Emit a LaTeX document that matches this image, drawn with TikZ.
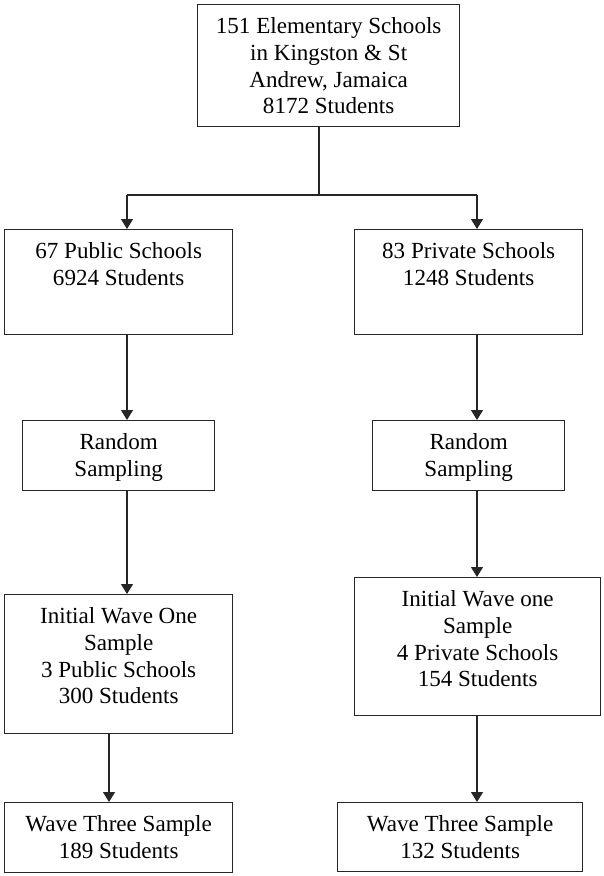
\documentclass[tikz,border=0pt]{standalone}
\usepackage{fontspec}
\setmainfont{Liberation Serif}
\usetikzlibrary{arrows.meta}
\newcommand{\boxtext}[3]{\parbox[c][#2][t]{#1}{\centering\rule{0pt}{21.75pt}#3}}
\begin{document}
\begin{tikzpicture}[x=0.75pt,y=-0.75pt,
  font=\fontsize{17.3pt}{20pt}\selectfont,
  stepbox/.style={draw=black!85, line width=1pt, inner sep=0pt, anchor=north west},
  arr/.style={draw=black!85, line width=1pt, -{Triangle[width=9pt,length=7.5pt]}},
  conn/.style={draw=black!85, line width=1pt}]
\useasboundingbox (0,0) rectangle (604,876);
\node[stepbox] (top) at (197,4) {\boxtext{196.5pt}{91.5pt}{151 Elementary Schools\\in Kingston \& St\\Andrew, Jamaica\\8172 Students}};
\node[stepbox] (pub) at (4,229) {\boxtext{171pt}{78.75pt}{67 Public Schools\\6924 Students}};
\node[stepbox] (priv) at (354,229) {\boxtext{171pt}{78.75pt}{83 Private Schools\\1248 Students}};
\node[stepbox] (randL) at (22,420) {\boxtext{144pt}{52.5pt}{Random\\Sampling}};
\node[stepbox] (randR) at (372,420) {\boxtext{144pt}{52.5pt}{Random\\Sampling}};
\node[stepbox] (initL) at (4,594) {\boxtext{171pt}{104.25pt}{Initial Wave One\\Sample\\3 Public Schools\\300 Students}};
\node[stepbox] (initR) at (354,577) {\boxtext{184.5pt}{103.5pt}{Initial Wave one\\Sample\\4 Private Schools\\154 Students}};
\node[stepbox] (waveL) at (4,802) {\boxtext{171pt}{52.5pt}{Wave Three Sample\\189 Students}};
\node[stepbox] (waveR) at (337,802) {\boxtext{183.75pt}{51.75pt}{Wave Three Sample\\132 Students}};
\coordinate (xm) at (319,0);
\coordinate (xl) at (127,0);
\coordinate (xr) at (477,0);
\coordinate (xll) at (109,0);
\coordinate (split) at (319,195);
\draw[conn] (top.south -| xm) -- (split);
\draw[conn] (split -| xl) -- (split -| xr);
\draw[arr] (split -| xl) -- (pub.north -| xl);
\draw[arr] (split -| xr) -- (priv.north -| xr);
\draw[arr] (pub.south -| xl) -- (randL.north -| xl);
\draw[arr] (randL.south -| xl) -- (initL.north -| xl);
\draw[arr] (initL.south -| xll) -- (waveL.north -| xll);
\draw[arr] (priv.south -| xr) -- (randR.north -| xr);
\draw[arr] (randR.south -| xr) -- (initR.north -| xr);
\draw[arr] (initR.south -| xr) -- (waveR.north -| xr);
\end{tikzpicture}
\end{document}
